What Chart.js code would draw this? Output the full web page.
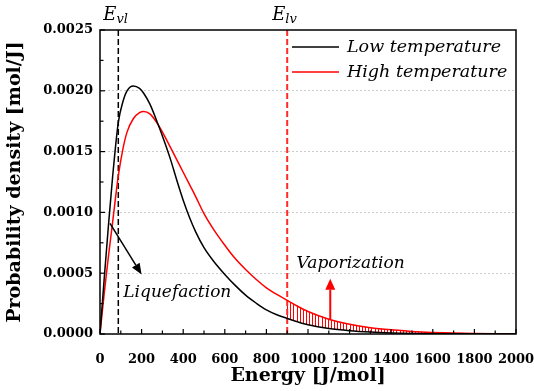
<!DOCTYPE html>
<html>
<head>
<meta charset="utf-8">
<script src="https://cdn.jsdelivr.net/npm/chart.js@4"></script>
<style>
  body { margin: 0; background: #fff; }
  #chart { display: block; }
</style>
</head>
<body>
<canvas id="chart" width="534" height="391"></canvas>
<script>
// energy grid [J/mol] shared by both curves
const energy = [0, 20, 40, 60, 88, 110, 130, 160, 190, 210, 240, 280, 310, 340, 370, 400, 430, 460, 500, 550,
  600, 650, 700, 750, 800, 850, 900, 950, 1000, 1100, 1200, 1300, 1400, 1500, 1600, 1700, 1800, 1900, 2000];
const lowTemp = [0, 0.00045, 0.00088, 0.00128, 0.00174, 0.00191, 0.00200, 0.00204, 0.00202, 0.00198, 0.00189,
  0.00172, 0.00158, 0.00143, 0.00126, 0.00110, 0.00096, 0.00084, 0.00071, 0.00059,
  0.00049, 0.00040, 0.00032, 0.000255, 0.000198, 0.000158, 0.000128, 0.000100, 0.000076, 0.000045, 0.000027,
  0.000016, 0.000009, 0.000005, 0.000003, 0.000002, 0.000001, 0, 0];
const highTemp = [0, 0.00033, 0.00063, 0.00091, 0.00130, 0.00152, 0.00166, 0.00177, 0.00182, 0.00183, 0.00181,
  0.00172, 0.00163, 0.00153, 0.00143, 0.00133, 0.00123, 0.00113, 0.00099, 0.00085,
  0.00073, 0.00062, 0.00053, 0.00045, 0.00038, 0.000325, 0.000277, 0.000228, 0.000185, 0.000122, 0.000080,
  0.000052, 0.000034, 0.000021, 0.000013, 0.000008, 0.000005, 0.000003, 0.000002];
const seriesNames = ['Low temperature', 'High temperature'];
const xTicks = [0, 200, 400, 600, 800, 1000, 1200, 1400, 1600, 1800, 2000];
const yTicks = [0, 0.0005, 0.0010, 0.0015, 0.0020, 0.0025];
const eVl = 88;   // E_vl marker
const eLv = 900;  // E_lv marker

const serif = "'DejaVu Serif', serif";

function interp(xs, ys, x) {
  for (let i = 1; i < xs.length; i++) {
    if (x <= xs[i]) {
      const t = (x - xs[i - 1]) / (xs[i] - xs[i - 1]);
      return ys[i - 1] + t * (ys[i] - ys[i - 1]);
    }
  }
  return ys[ys.length - 1];
}

function arrow(ctx, x1, y1, x2, y2, color, w, head, headW) {
  const a = Math.atan2(y2 - y1, x2 - x1);
  const bx = x2 - head * Math.cos(a), by = y2 - head * Math.sin(a);
  ctx.strokeStyle = color;
  ctx.fillStyle = color;
  ctx.lineWidth = w;
  ctx.beginPath();
  ctx.moveTo(x1, y1);
  ctx.lineTo(bx, by);
  ctx.stroke();
  ctx.beginPath();
  ctx.moveTo(x2, y2);
  ctx.lineTo(bx + headW / 2 * Math.sin(a), by - headW / 2 * Math.cos(a));
  ctx.lineTo(bx - headW / 2 * Math.sin(a), by + headW / 2 * Math.cos(a));
  ctx.closePath();
  ctx.fill();
}

function italicLabel(ctx, x, y, main, sub) {
  ctx.fillStyle = '#000';
  ctx.textBaseline = 'alphabetic';
  ctx.textAlign = 'left';
  ctx.font = 'italic 18px ' + serif;
  ctx.fillText(main, x, y);
  const w = ctx.measureText(main).width;
  if (sub) {
    ctx.font = 'italic 13px ' + serif;
    ctx.fillText(sub, x + w, y + 3);
  }
}

const extras = {
  id: 'extras',
  beforeDatasetsDraw(chart) {
    const {ctx, chartArea: a, scales: {x, y}} = chart;
    ctx.save();
    // hatch between the two curves beyond E_lv
    ctx.strokeStyle = '#ff0000';
    ctx.lineWidth = 1;
    for (let e = eLv; e <= 1900; e += 15) {
      const px = Math.round(x.getPixelForValue(e)) + 0.5;
      ctx.beginPath();
      ctx.moveTo(px, y.getPixelForValue(interp(energy, highTemp, e)));
      ctx.lineTo(px, y.getPixelForValue(interp(energy, lowTemp, e)));
      ctx.stroke();
    }
    // dashed markers
    ctx.setLineDash([6, 3]);
    ctx.lineWidth = 1.5;
    ctx.strokeStyle = '#000';
    let px = x.getPixelForValue(eVl);
    ctx.beginPath(); ctx.moveTo(px, a.top); ctx.lineTo(px, a.bottom); ctx.stroke();
    ctx.lineWidth = 2;
    ctx.strokeStyle = '#ff2a2a';
    px = x.getPixelForValue(eLv);
    ctx.beginPath(); ctx.moveTo(px, a.top); ctx.lineTo(px, a.bottom); ctx.stroke();
    ctx.restore();
  },
  afterDraw(chart) {
    const {ctx, chartArea: a, scales: {x, y}} = chart;
    ctx.save();
    // frame
    ctx.strokeStyle = '#000';
    ctx.lineWidth = 1.5;
    ctx.strokeRect(a.left, a.top, a.right - a.left, a.bottom - a.top);
    // inward ticks
    ctx.lineWidth = 1.2;
    for (let v = 0; v <= 2000; v += 100) {
      const px = x.getPixelForValue(v);
      const len = v % 200 === 0 ? 5 : 3.5;
      ctx.beginPath(); ctx.moveTo(px, a.bottom); ctx.lineTo(px, a.bottom - len); ctx.stroke();
    }
    for (let i = 0; i <= 10; i++) {
      const py = y.getPixelForValue(i * 0.00025);
      const len = i % 2 === 0 ? 5 : 3.5;
      ctx.beginPath(); ctx.moveTo(a.left, py); ctx.lineTo(a.left + len, py); ctx.stroke();
    }
    // marker labels
    italicLabel(ctx, x.getPixelForValue(eVl) - 15, 20, 'E', 'vl');
    italicLabel(ctx, x.getPixelForValue(eLv) - 15, 20, 'E', 'lv');
    // arrows
    arrow(ctx, x.getPixelForValue(48), y.getPixelForValue(0.00091),
      x.getPixelForValue(200), y.getPixelForValue(0.00049), '#000', 1.5, 11, 9);
    arrow(ctx, x.getPixelForValue(1107), y.getPixelForValue(interp(energy, highTemp, 1107)),
      x.getPixelForValue(1107), y.getPixelForValue(0.000454), '#ff0000', 2, 11, 10);
    // annotation text
    ctx.fillStyle = '#000';
    ctx.font = 'italic 17px ' + serif;
    ctx.textAlign = 'left';
    ctx.textBaseline = 'middle';
    ctx.fillText('Liquefaction', x.getPixelForValue(112), y.getPixelForValue(0.000344));
    ctx.fillText('Vaporization', x.getPixelForValue(945), y.getPixelForValue(0.000576));
    // legend
    chart.data.datasets.forEach((ds, i) => {
      const ly = 47 + i * 25;
      ctx.strokeStyle = ds.borderColor;
      ctx.lineWidth = 1.5;
      ctx.beginPath(); ctx.moveTo(292, ly); ctx.lineTo(339, ly); ctx.stroke();
      ctx.fillStyle = '#000';
      ctx.font = 'italic 17.5px ' + serif;
      ctx.fillText(ds.label, 347, ly);
    });
    ctx.restore();
  }
};

new Chart(document.getElementById('chart').getContext('2d'), {
  type: 'line',
  data: {
    labels: energy,
    datasets: [{
      label: seriesNames[0],
      data: energy.map((e, i) => ({x: e, y: lowTemp[i]})),
      borderColor: '#000000',
      borderWidth: 1.5,
      pointRadius: 0,
      cubicInterpolationMode: 'monotone',
      fill: false
    }, {
      label: seriesNames[1],
      data: energy.map((e, i) => ({x: e, y: highTemp[i]})),
      borderColor: '#ff0000',
      borderWidth: 1.5,
      pointRadius: 0,
      cubicInterpolationMode: 'monotone',
      fill: false
    }]
  },
  options: {
    responsive: false,
    animation: false,
    devicePixelRatio: 1,
    layout: { padding: { top: 30, right: 18, left: 0, bottom: 0 } },
    plugins: { legend: { display: false }, tooltip: { enabled: false } },
    scales: {
      x: {
        type: 'linear',
        min: 0,
        max: 2000,
        afterBuildTicks: s => { s.ticks = xTicks.map(v => ({value: v})); },
        afterFit: s => { s.height = 57; s.paddingLeft = 0; s.paddingRight = 0; },
        grid: { display: false },
        border: { display: false },
        ticks: {
          maxRotation: 0,
          autoSkip: false,
          padding: 10,
          color: '#000',
          font: { family: serif, weight: 'bold', size: 13 },
          callback: v => String(v)
        },
        title: {
          display: true,
          text: 'Energy [J/mol]',
          color: '#000',
          font: { family: serif, weight: 'bold', size: 19 },
          padding: { top: 2, bottom: 4 }
        }
      },
      y: {
        min: 0,
        max: 0.0025,
        afterBuildTicks: s => { s.ticks = yTicks.map(v => ({value: v})); },
        afterFit: s => { s.width = 100; s.paddingTop = 0; s.paddingBottom = 0; },
        grid: {
          drawTicks: false,
          lineWidth: 1,
          color: c => (c.tick && c.tick.value > 0 && c.tick.value < 0.0025) ? '#cccccc' : 'rgba(0,0,0,0)'
        },
        border: { display: false, dash: [2, 2] },
        ticks: {
          padding: 7,
          color: '#000',
          font: { family: serif, weight: 'bold', size: 13 },
          callback: v => v.toFixed(4)
        },
        title: {
          display: true,
          text: 'Probability density [mol/J]',
          color: '#000',
          font: { family: serif, weight: 'bold', size: 19 },
          padding: { top: 4, bottom: 4 }
        }
      }
    }
  },
  plugins: [extras]
});
</script>
</body>
</html>
